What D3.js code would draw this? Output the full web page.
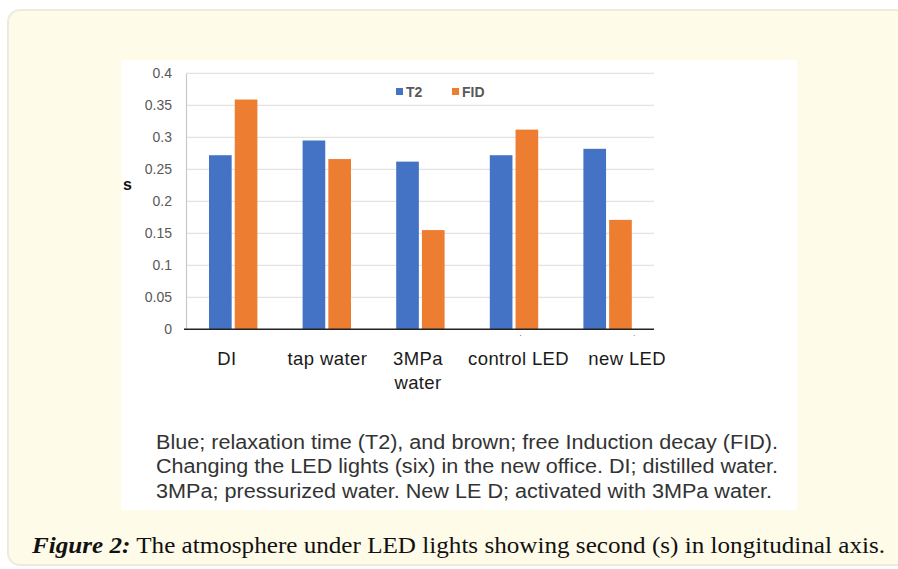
<!DOCTYPE html>
<html><head><meta charset="utf-8">
<script src="https://cdn.jsdelivr.net/npm/d3@7"></script>
<style>html,body{margin:0;padding:0;background:#fff;}</style>
</head><body>
<svg id="c" width="898" height="569"></svg>
<script>
const categories = ["DI", "tap water", "3MPa\nwater", "control LED", "new LED"];
const seriesNames = ["T2", "FID"];
const t2Values = [0.272, 0.295, 0.262, 0.272, 0.282];
const fidValues = [0.359, 0.266, 0.155, 0.312, 0.171];
const yTicks = [0, 0.05, 0.1, 0.15, 0.2, 0.25, 0.3, 0.35, 0.4];
const colors = ["#4472c4", "#ed7d31"];
const noteLines = [
  "Blue; relaxation time (T2), and brown; free Induction decay (FID).",
  "Changing the LED lights (six) in the new office. DI; distilled water.",
  "3MPa; pressurized water. New LE D; activated with 3MPa water."
];

(function() {
const svg = d3.select("#c");
svg.append("rect").attr("x", 8).attr("y", 10).attr("width", 900).attr("height", 555)
  .attr("rx", 12).attr("fill", "#fffbe9").attr("stroke", "#efeadb").attr("stroke-width", 2);
svg.append("rect").attr("x", 121).attr("y", 60).attr("width", 676).attr("height", 450).attr("fill", "#fff");

const pL = 186, pR = 654, pT = 73.3, pB = 329.3;
const x0 = d3.scaleBand().domain(categories).range([pL, pR]).paddingInner(0).paddingOuter(0);
const x1 = d3.scaleBand().domain(seriesNames).range([-23.8, 24.6]).paddingInner(0.12);
const y = d3.scaleLinear().domain([0, 0.4]).range([pB, pT]);

svg.append("g").selectAll("line").data(yTicks.filter(d => d > 0)).join("line")
  .attr("x1", pL).attr("x2", pR).attr("y1", d => y(d)).attr("y2", d => y(d))
  .attr("stroke", "#e3e3e3").attr("stroke-width", 1.3);

const yAxis = d3.axisLeft(y).tickValues(yTicks).tickSize(0).tickPadding(14).tickFormat(d => String(+d.toFixed(2)));
const gy = svg.append("g").attr("transform", `translate(${pL},0)`).call(yAxis);
gy.select(".domain").attr("stroke", "#c8c8c8").attr("stroke-width", 1.2);
gy.selectAll("text").attr("fill", "#595959").attr("font-family", "Liberation Sans, Arial, sans-serif").attr("font-size", 14);

const data = categories.map((c, i) => ({c, vals: [t2Values[i], fidValues[i]]}));
const groups = svg.append("g").selectAll("g").data(data).join("g")
  .attr("transform", d => `translate(${x0(d.c) + x0.bandwidth() / 2},0)`);
groups.selectAll("rect").data(d => d.vals.map((v, j) => ({s: seriesNames[j], v, j}))).join("rect")
  .attr("x", d => x1(d.s)).attr("width", x1.bandwidth())
  .attr("y", d => y(d.v)).attr("height", d => y(0) - y(d.v))
  .attr("fill", d => colors[d.j]);

const xAxis = d3.axisBottom(x0).tickSize(0).tickFormat("");
const gx = svg.append("g").attr("transform", `translate(0,${pB})`).call(xAxis);
gx.select(".domain").attr("stroke", "#222").attr("stroke-width", 1.5).attr("d", `M${pL - 2},0H${pR}`);

[3, 4].forEach(i => {
  svg.append("rect").attr("x", x0(categories[i]) + x0.bandwidth() / 2 + [0, 0, 0, 7, 27][i] - 0.5)
    .attr("y", 335).attr("width", 1).attr("height", 1).attr("fill", "#888");
});

const offs = [6, -1, 2, -5, -20];
const xl = svg.append("g").selectAll("text").data(categories).join("text")
  .attr("text-anchor", "middle").attr("font-family", "Liberation Sans, Arial, sans-serif")
  .attr("font-size", 18.5).attr("fill", "#1a1a1a").attr("letter-spacing", 0.4)
  .attr("x", (d, i) => x0(d) + x0.bandwidth() / 2 - offs[i]);
xl.each(function(d) {
  const t = d3.select(this);
  d.split("\n").forEach((line, k) => t.append("tspan").attr("x", t.attr("x")).attr("y", 365 + k * 24).text(line));
});

svg.append("text").attr("x", 127.5).attr("y", 190).attr("text-anchor", "middle")
  .attr("font-family", "Liberation Sans, Arial, sans-serif").attr("font-weight", "bold").attr("font-size", 16).attr("fill", "#111").text("s");

const lg = svg.append("g").attr("font-family", "Liberation Sans, Arial, sans-serif").attr("font-size", 14).attr("font-weight", "bold").attr("fill", "#595959");
const legX = [396, 452];
seriesNames.forEach((s, i) => {
  lg.append("rect").attr("x", legX[i]).attr("y", 88).attr("width", 7).attr("height", 7).attr("fill", colors[i]);
  lg.append("text").attr("x", legX[i] + 10).attr("y", 96.5).text(s);
});

svg.append("g").selectAll("text").data(noteLines).join("text")
  .attr("x", 156).attr("y", (d, i) => 448.5 + i * 24.5)
  .attr("font-family", "Liberation Sans, Arial, sans-serif").attr("font-size", 19.5).attr("fill", "#333")
  .attr("textLength", (d, i) => [622, 622, 616][i]).attr("lengthAdjust", "spacingAndGlyphs")
  .text(d => d);

const cap = svg.append("text").attr("x", 32).attr("y", 553)
  .attr("font-family", "Liberation Serif, Times New Roman, serif").attr("font-size", 22.5).attr("fill", "#111")
  .attr("textLength", 853).attr("lengthAdjust", "spacingAndGlyphs");
cap.append("tspan").attr("font-weight", "bold").attr("font-style", "italic").text("Figure 2:");
cap.append("tspan").text(" The atmosphere under LED lights showing second (s) in longitudinal axis.");
})();
</script>
</body></html>
